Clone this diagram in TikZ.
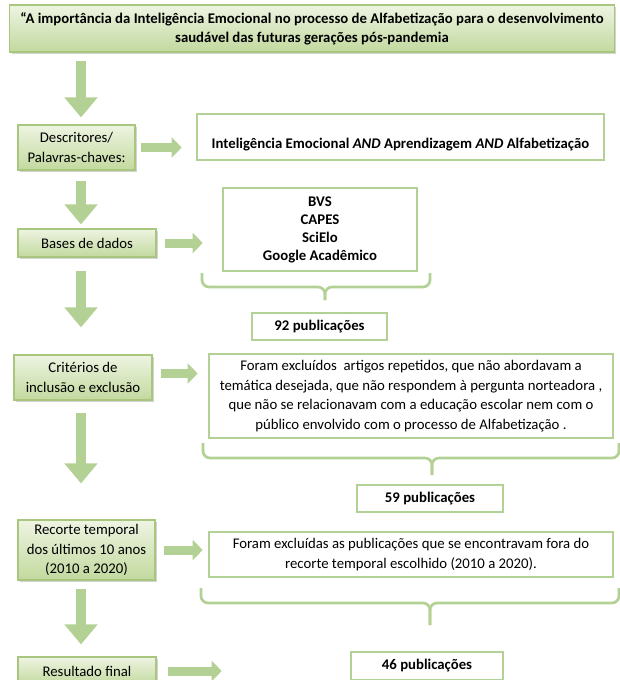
\documentclass[tikz,border=0pt]{standalone}
\usepackage{fontspec}
\setmainfont{Carlito}
\usetikzlibrary{positioning}
\usetikzlibrary{arrows.meta}
\usetikzlibrary{shadows}
\definecolor{boxtop}{HTML}{EEF4E2}
\definecolor{boxbot}{HTML}{C2D99E}
\definecolor{boxline}{HTML}{A9C67E}
\definecolor{arrowgreen}{HTML}{B3D194}
\tikzset{%
	% Specifications for style of nodes:
	base/.style = {rectangle, align=center, inner sep=2pt, font=\fontsize{10.5}{13.8}\selectfont},
	stage/.style = {base, draw=boxline, line width=0.8pt, top color=boxtop, bottom color=boxbot, drop shadow={shadow xshift=1.2pt, shadow yshift=-1.5pt, opacity=0.35}},
	note/.style = {base, draw=arrowgreen, line width=1.8pt, fill=white},
	count/.style = {note, font=\fontsize{10.5}{13.8}\selectfont\bfseries},
	fatdown/.style = {draw=arrowgreen, line width=0.25cm, -{Triangle[length=0.5cm, width=0.8cm]}},
	fatright/.style = {draw=arrowgreen, line width=0.225cm, -{Triangle[length=0.25cm, width=0.5cm]}},
	brace/.style = {draw=arrowgreen, line width=1.9pt, rounded corners=5pt},
}
\begin{document}
\begin{tikzpicture}[x=0.025cm, y=-0.025cm]
		\useasboundingbox (0,0) rectangle (620,680);
		\node (Title) [stage, minimum width=15.1cm, minimum height=1.175cm, font=\fontsize{10.5}{13.5}\selectfont\bfseries] at (312,28.5) {“A importância da Inteligência Emocional no processo de Alfabetização para o desenvolvimento\\ saudável das futuras gerações pós-pandemia};
		
		\node (Desc) [stage, minimum width=2.925cm, minimum height=1.125cm] at (76.5,147.5) {Descritores/\\ Palavras-chaves:};
		\node (Bases) [stage, minimum width=3.45cm, minimum height=0.7cm] at (87,243) {Bases de dados};
		\node (Crit) [stage, minimum width=3.45cm, minimum height=1.125cm] at (83,377.5) {Critérios de\\ inclusão e exclusão};
		\node (Recorte) [stage, minimum width=3.425cm, minimum height=1.5cm] at (86.5,550) {Recorte temporal\\ dos últimos 10 anos\\ (2010 a 2020)};
		\node (Final) [stage, minimum width=3.45cm, minimum height=0.7cm] at (87,671) {Resultado final};
		
		\node (Words) [note, minimum width=10.175cm, minimum height=1.15cm, font=\fontsize{10.5}{13.5}\selectfont\bfseries] at (400.5,137) {\\[4pt] Inteligência Emocional \textit{AND} Aprendizagem \textit{AND} Alfabetização};
		\node (Bvs) [count, minimum width=4.85cm, minimum height=2.075cm, font=\fontsize{10.5}{12.8}\selectfont\bfseries] at (320,229.5) {BVS\\ CAPES\\ SciElo\\ Google Acadêmico};
		\node (N92) [count, minimum width=3.375cm, minimum height=0.675cm] at (319.5,326.5) {92 publicações};
		\node (Excl) [note, minimum width=10.1cm, minimum height=2.1cm] at (411,396) {Foram excluídos\ \ artigos repetidos, que não abordavam a\\ temática desejada, que não respondem à pergunta norteadora ,\\ que não se relacionavam com a educação escolar nem com o\\ público envolvido com o processo de Alfabetização .};
		\node (N59) [count, minimum width=3.65cm, minimum height=0.675cm] at (430,498.5) {59 publicações};
		\node (Fora) [note, minimum width=10.1cm, minimum height=1.125cm] at (411,554.5) {Foram excluídas as publicações que se encontravam fora do\\ recorte temporal escolhido (2010 a 2020).};
		\node (N46) [count, minimum width=3.8cm, minimum height=0.7cm] at (427,666) {46 publicações};
		
		\coordinate (Col) at (81,0);
		
		\draw [fatdown, shorten <=0.2cm, shorten >=0.175cm] (Title.south -| Col) -- (Desc.north -| Col);
		\draw [fatdown, shorten <=0.25cm, shorten >=0.1cm] (Desc.south -| Col) -- (Bases.north -| Col);
		\draw [fatdown, shorten <=0.325cm, shorten >=0.675cm] (Bases.south -| Col) -- (Crit.north -| Col);
		\draw [fatdown, shorten <=0.3cm, shorten >=0.9cm] (Crit.south -| Col) -- (Recorte.north -| Col);
		\draw [fatdown, shorten <=0.2cm, shorten >=0.3cm] (Recorte.south -| Col) -- (Final.north -| Col);
		
		\draw [fatright, shorten <=0.125cm, shorten >=0.35cm] (Desc.east) -- (Desc.east -| Words.west);
		\draw [fatright, shorten <=0.2cm, shorten >=0.475cm] (Bases.east) -- (Bases.east -| Bvs.west);
		\draw [fatright, shorten <=0.2cm, shorten >=0.25cm] ([yshift=0.1cm]Crit.east) -- ([yshift=0.1cm]Crit.east -| Excl.west);
		\draw [fatright, shorten <=0.2cm, shorten >=0.125cm] (Recorte.east) -- (Recorte.east -| Fora.west);
		\draw [fatright, shorten <=0.275cm, shorten >=3.2cm] (Final.east) -- (Final.east -| N46.west);
		
		% braces under the boxes
		\draw [brace] (202,273) -- (202,287) -- (325,287) -- (325,300);
		\draw [brace] (430,273) -- (430,287) -- (325,287) -- (325,300);
		\draw [brace] (203,443) -- (203,458) -- (432,458) -- (432,475);
		\draw [brace] (619,443) -- (619,458) -- (432,458) -- (432,475);
		\draw [brace] (201,588) -- (201,603) -- (430,603) -- (430,625);
		\draw [brace] (619,588) -- (619,603) -- (430,603) -- (430,625);
		
     \end{tikzpicture}
\end{document}
